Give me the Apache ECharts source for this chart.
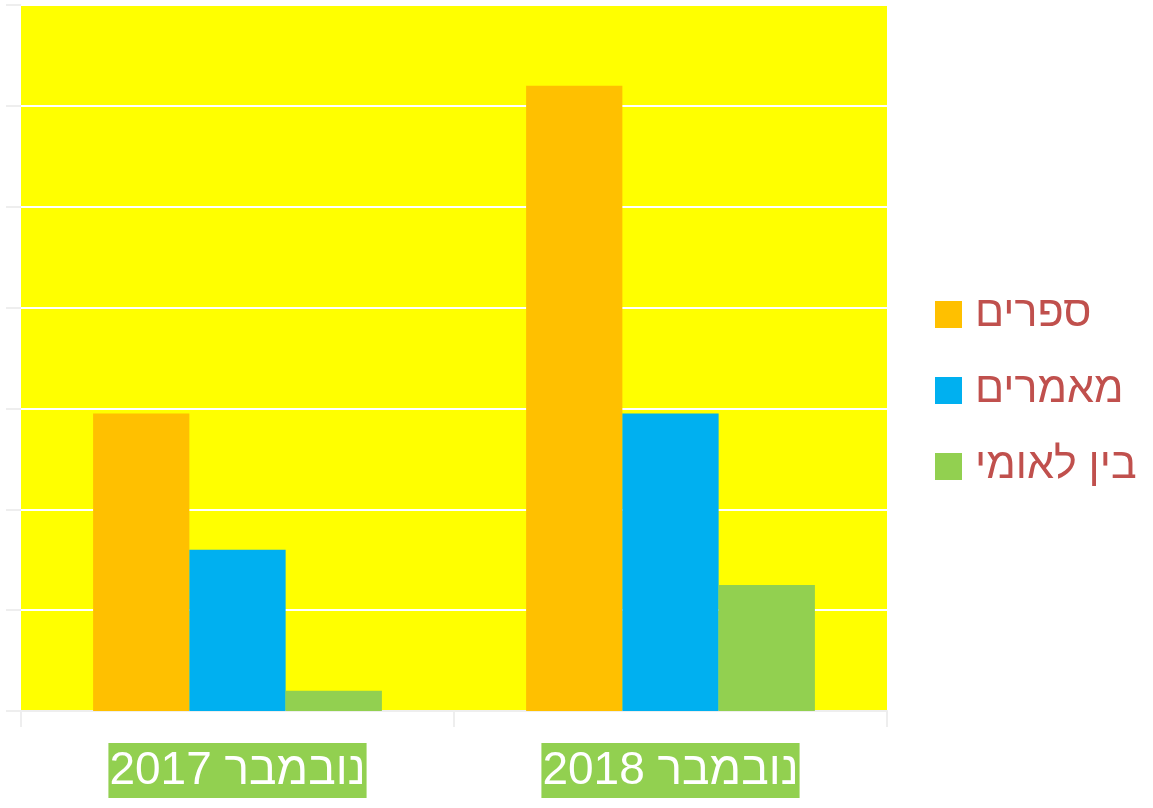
<!DOCTYPE html>
<html>
<head>
<meta charset="utf-8">
<script src="https://cdn.jsdelivr.net/npm/echarts@6/dist/echarts.min.js"></script>
<style>html,body{margin:0;padding:0;background:#fff}#c{width:1153px;height:808px}</style>
</head>
<body>
<div id="c"></div>
<script>
const categories = ['נובמבר 2017', 'נובמבר 2018'];
const seriesNames = ['ספרים', 'מאמרים', 'בין לאומי'];
const books = [59, 124];
const articles = [32, 59];
const international = [4, 25];
const colors = ['#FFC000', '#00B0F0', '#92D050'];

const chart = echarts.init(document.getElementById('c'));
const font = '"Liberation Sans", Arial, "DejaVu Sans", sans-serif';
chart.setOption({
  animation: false,
  backgroundColor: '#ffffff',
  grid: { left: 21, right: 266, top: 5, bottom: 97, show: true, backgroundColor: '#FFFF00', borderWidth: 0 },
  legend: {
    orient: 'vertical', left: 935, top: 293, padding: 0,
    itemWidth: 27, itemHeight: 27, itemGap: 33,
    icon: 'rect',
    textStyle: { color: '#C0504D', fontSize: 43, fontFamily: font, padding: [0, 0, 0, 8], lineHeight: 27, height: 27 },
    data: seriesNames
  },
  xAxis: {
    type: 'category', data: categories,
    axisLine: { show: true, lineStyle: { color: '#eeeeee', width: 2 } },
    axisTick: { show: true, length: 16, lineStyle: { color: '#eeeeee', width: 2 } },
    axisLabel: {
      color: '#ffffff', fontSize: 46, fontFamily: font, backgroundColor: '#92D050',
      padding: [2, 1, 0, 1], lineHeight: 53, margin: 32
    }
  },
  yAxis: {
    type: 'value', min: 0, max: 140, interval: 20,
    axisLabel: { show: false },
    axisLine: { show: false },
    axisTick: { show: true, length: 15, lineStyle: { color: '#eeeeee', width: 2 } },
    splitLine: { show: true, lineStyle: { color: '#ffffff', width: 2 } }
  },
  series: [
    { name: seriesNames[0], type: 'bar', data: books, itemStyle: { color: colors[0] }, barGap: '0%', barCategoryGap: '33.3%' },
    { name: seriesNames[1], type: 'bar', data: articles, itemStyle: { color: colors[1] }, barGap: '0%', barCategoryGap: '33.3%' },
    { name: seriesNames[2], type: 'bar', data: international, itemStyle: { color: colors[2] }, barGap: '0%', barCategoryGap: '33.3%' }
  ]
});
</script>
</body>
</html>
